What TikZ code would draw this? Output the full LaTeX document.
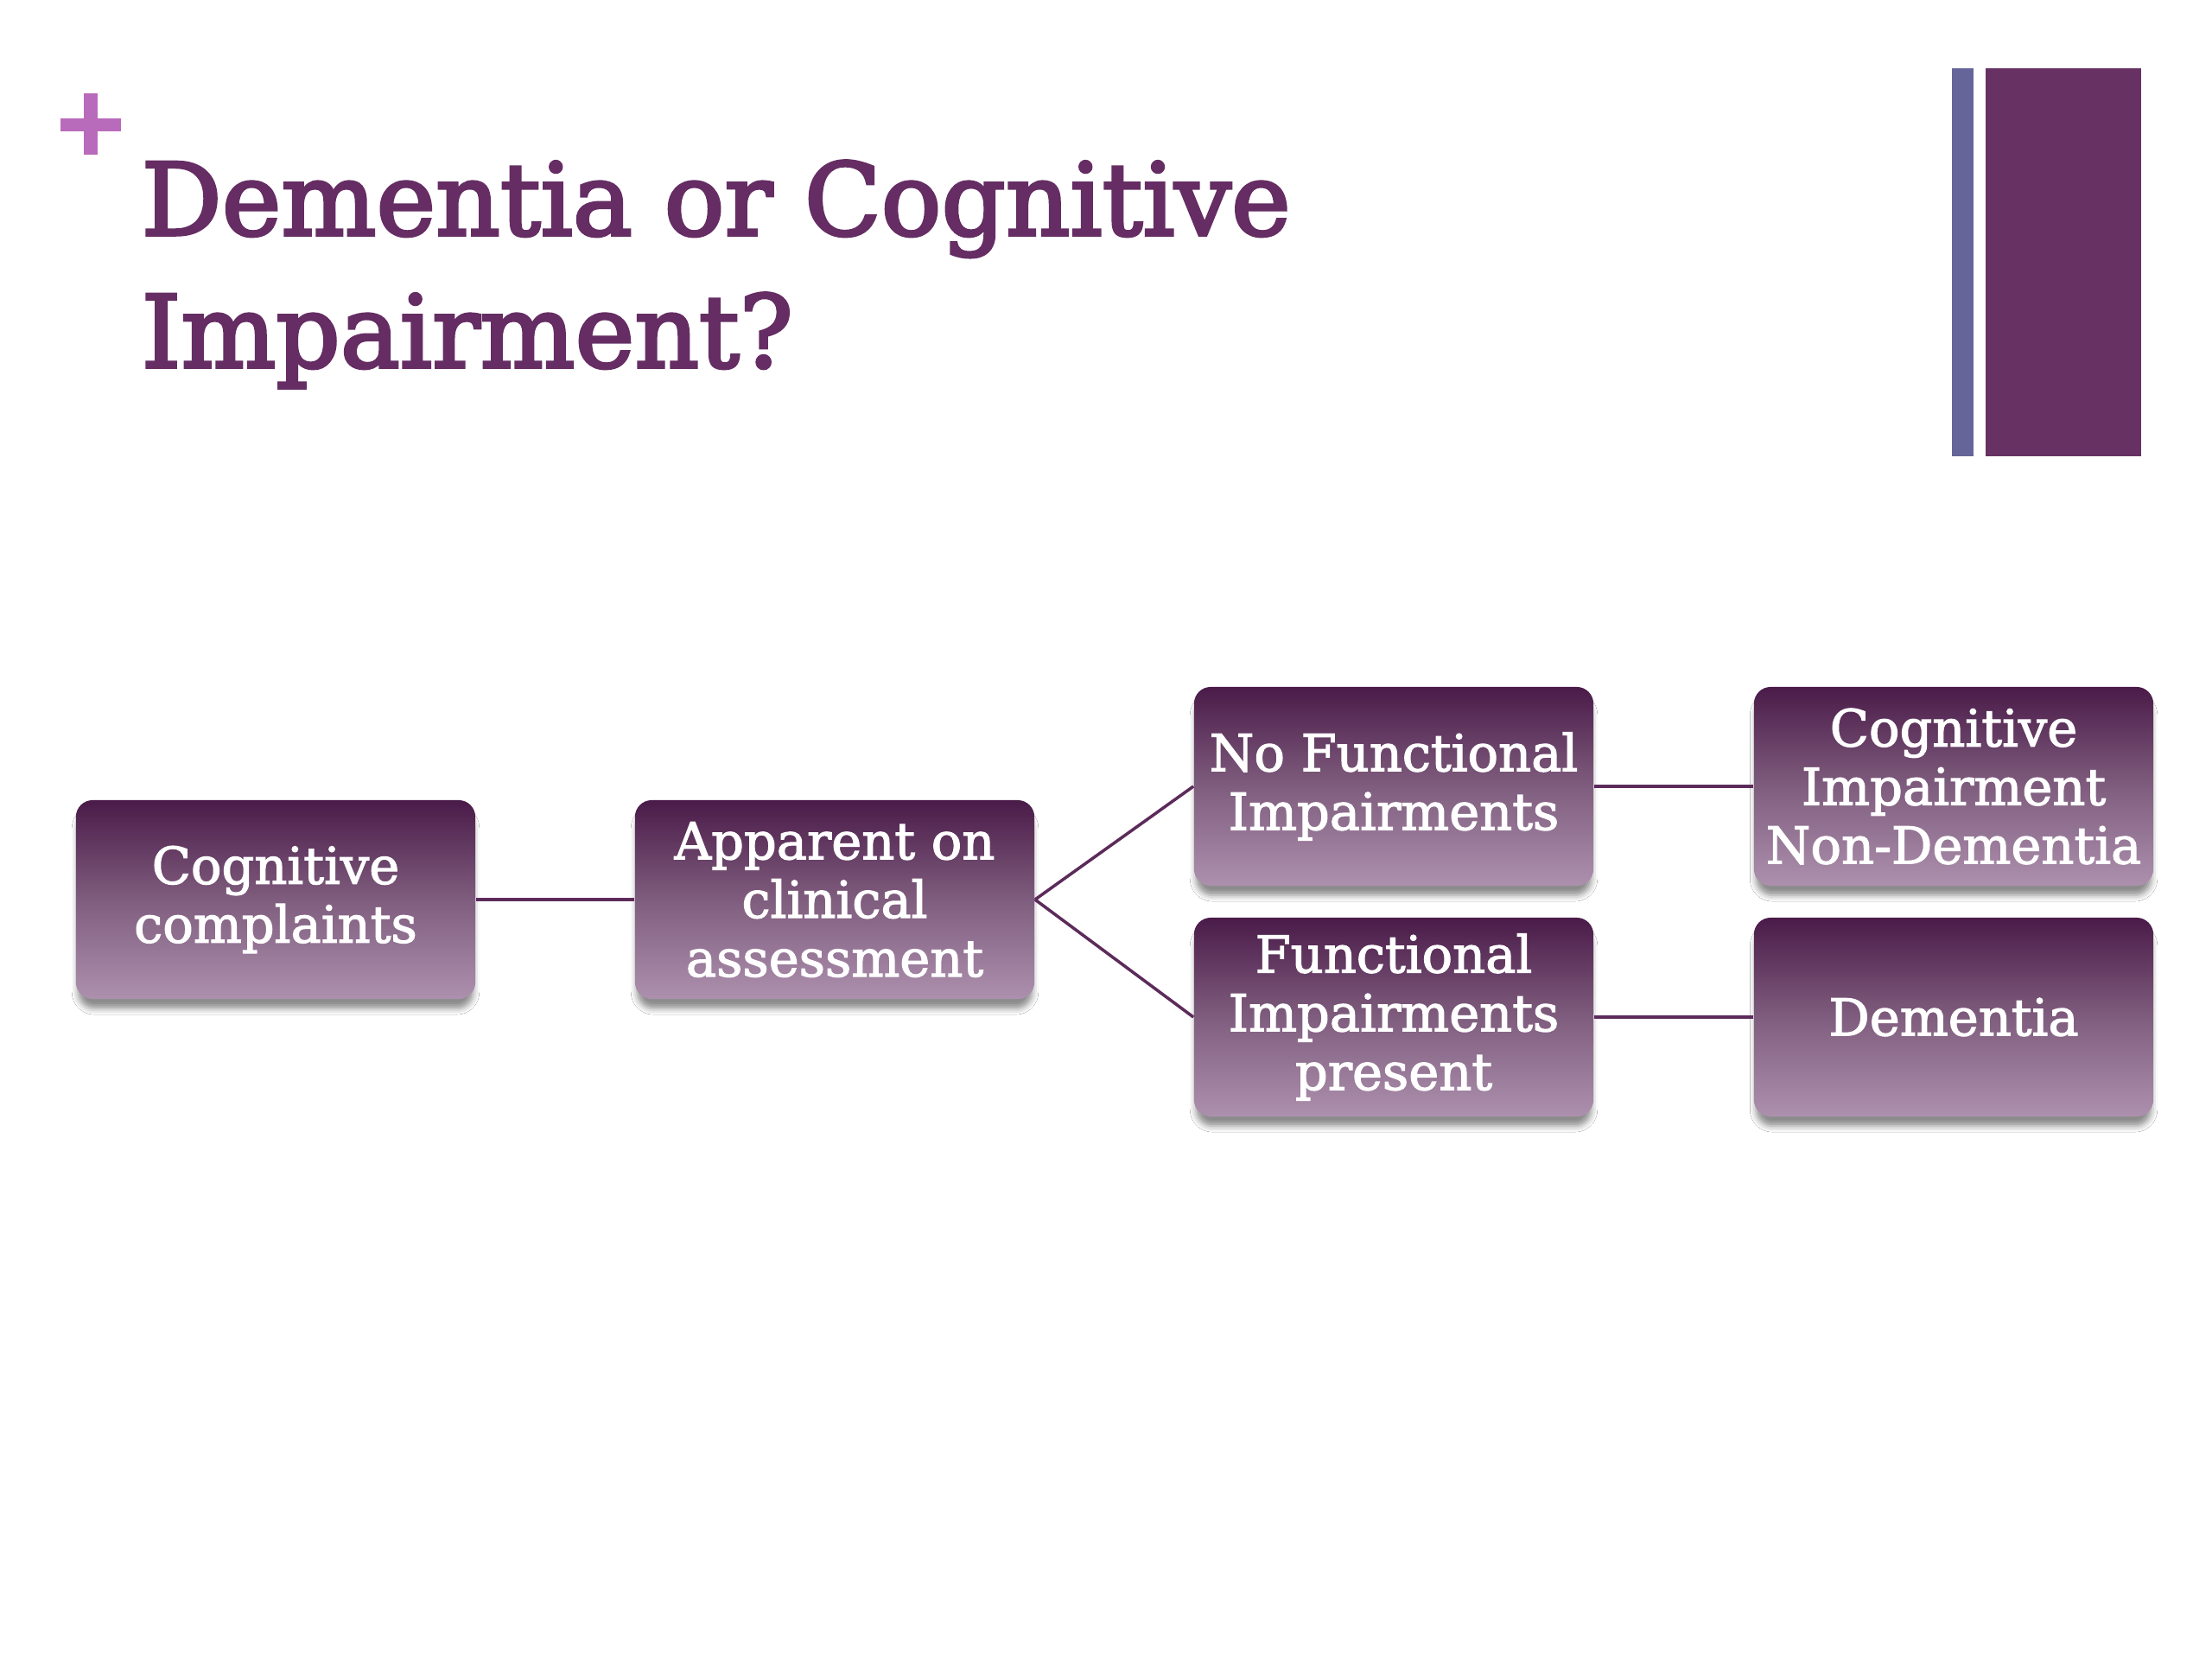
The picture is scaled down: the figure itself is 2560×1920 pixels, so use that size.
\documentclass[tikz,border=0pt]{standalone}
\usepackage{fontspec}
\setmainfont{DejaVu Serif}
\newfontfamily\titlefont{DejaVu Serif}[FakeBold=3]
\newfontfamily\boxfont{DejaVu Serif}[FakeBold=2]
\usetikzlibrary{shadows.blur}
\definecolor{titlec}{HTML}{652D63}
\definecolor{plusc}{HTML}{B96BBB}
\definecolor{barblue}{HTML}{65659A}
\definecolor{barpurple}{HTML}{673163}
\definecolor{boxtop}{HTML}{4A1B49}
\definecolor{boxmid}{HTML}{7F5D7E}
\definecolor{boxbot}{HTML}{AD90AE}
\definecolor{linkc}{HTML}{5C2B5A}
\tikzset{
  flowbox/.style={rounded corners=5.5pt, minimum width=4.62cm, minimum height=2.3cm,
    top color=boxtop, bottom color=boxbot, middle color=boxmid,
    text=white, align=center, inner sep=2pt,
    font=\boxfont\fontsize{16.8}{19.3}\selectfont,
    blur shadow={shadow xshift=0pt, shadow yshift=-3.5pt, shadow blur radius=2pt, shadow scale=0.99, shadow opacity=45}},
  link/.style={draw=linkc, line width=1pt},
  titletext/.style={anchor=base west, inner sep=0pt, text=titlec, font=\titlefont\fontsize{33}{43.5}\selectfont}
}
\begin{document}
\begin{tikzpicture}[x=0.01cm,y=-0.01cm]
\fill[white] (0,0) rectangle (2560,1920);
\useasboundingbox (0,0) rectangle (2560,1920);
% plus sign
\fill[plusc] (70,137) rectangle (140,152);
\fill[plusc] (97,108) rectangle (113,179);
% bars
\fill[barblue] (2259,79) rectangle (2284,528);
\fill[barpurple] (2298,79) rectangle (2478,528);
% title
\node[titletext] (t1) at (163,272) {Dementia or Cognitive};
\node[titletext] (t2) at (163,425) {Impairment?};
% boxes
\node[flowbox] (b1) at (319,1041) {Cognitive\\complaints};
\node[flowbox] (b2) at (966,1041) {Apparent on\\clinical\\assessment};
\node[flowbox] (b3) at (1613,910) {No Functional\\Impairments};
\node[flowbox] (b4) at (1613,1177) {Functional\\Impairments\\present};
\node[flowbox] (b5) at (2261,910) {Cognitive\\Impairment\\Non-Dementia};
\node[flowbox] (b6) at (2261,1177) {Dementia};
% links
\draw[link] (b1.east) -- (b2.west);
\draw[link] (b2.east) -- (b3.west);
\draw[link] (b2.east) -- (b4.west);
\draw[link] (b3.east) -- (b5.west);
\draw[link] (b4.east) -- (b6.west);
\end{tikzpicture}
\end{document}
